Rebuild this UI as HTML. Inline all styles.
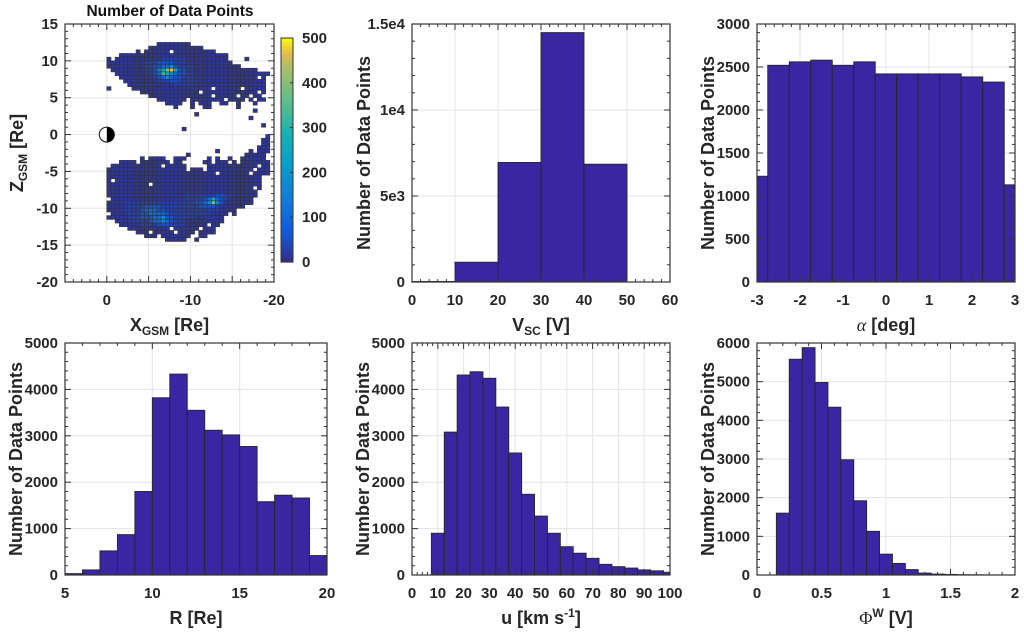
<!DOCTYPE html>
<html><head><meta charset="utf-8"><style>
body{margin:0;background:#fff;}
svg{display:block;font-family:"Liberation Sans",Arial,sans-serif;font-weight:bold;}
</style></head><body>
<svg id="fig" width="1024" height="634" viewBox="0 0 1024 634" xmlns="http://www.w3.org/2000/svg"></svg>
<script>
// ---------- DATA ----------
const vscEdges=[0,10,20,30,40,50];
const vscCounts=[30,1150,6950,14500,6850];
const alphaEdges=[-3,-2.75,-2.25,-1.75,-1.25,-0.75,-0.25,0.25,0.75,1.25,1.75,2.25,2.75,3];
const alphaCounts=[1230,2520,2560,2580,2520,2560,2420,2420,2420,2420,2385,2325,1130];
const rEdges=[5,6,7,8,9,10,11,12,13,14,15,16,17,18,19,20];
const rCounts=[30,110,520,870,1800,3820,4330,3550,3120,3020,2770,1580,1720,1660,420];
const uEdges=[0,7.5,12.5,17.5,22.5,27.5,32.5,37.5,42.5,47.5,52.5,57.5,62.5,67.5,72.5,77.5,82.5,87.5,92.5,97.5,100];
const uCounts=[0,900,3080,4310,4380,4240,3620,2630,1740,1270,900,610,470,360,230,180,150,110,90,60];
const phiEdges=[0,0.15,0.25,0.35,0.45,0.55,0.65,0.75,0.85,0.95,1.05,1.15,1.25,1.35,1.45,1.55,1.65,1.75,1.85,2];
const phiCounts=[0,1600,5580,5880,4980,4340,2980,1920,1130,540,300,140,50,25,15,8,5,3,2];
// heatmap: rows from z=12 down in 0.5 steps, columns from x=0 toward x=-20 in 0.5 steps; digit = level index
const heatLevelVals=[5,15,30,55,100,170,260,330,400,470];
const heatTopZ=12;
const heatRows=[
"............11111111....................",
"..........1111111111111.................",
".......1.111111.1111111111..............",
"...11111111111111111111111111...........",
"1.111111111112222221111111111....1......",
"111111111222333322211111111111..........",
"11111111122334453222211111111111........",
".11111111223568963322111111111111111....",
"..1111111223476543322111111111111111111.",
"...111111122345433222111111111111111.1..",
"....1111111122233222221111111111111111..",
".....111111111112222211111111111111111..",
"1.....1111111111111111111.111111.11111..",
"........11111111111111.1111111111111.1..",
"..........111111111111111.11111.11.11...",
"............1111111.11111111.1111.1.11..",
"..............1111..1.111..11..1...1....",
"................1...1..11......1........",
"...................................1....",
".....................1..................",
"..................................1.....",
"........................................",
".....................................1..",
"..................1.....................",
"........................................",
"......................................1.",
".....................................11.",
".....................................11.",
"....................................111.",
"..........................1.......1.111.",
"...................1.............11111..",
"........1.1111..111.....1.1..1..111111..",
"...1111.1111111.11.....11.111.1.1111111.",
".111111111111.11111.....111111111111.11.",
"1111111111111111111.111.11111111111.111.",
"11111111111111111111111111.1111111.1111.",
"1111111111111111111111111111111111111...",
"1.11111111111111111111111111111111111...",
"1111111111.11111111111111111111111111...",
"11111111111111111111111111111111111.1...",
"111111111111111111111111111111111111....",
"111111111111111111122222223322111111....",
".1111111111111111122222346432111111.....",
"11112222222222222222233458531111111.....",
"111112222333322222222233332111111.......",
"1111222234443322222222222221111.........",
".1111222334444322222222221111.1.........",
"1111122233344533222221111111............",
"..11112222344543222111111111............",
"...111112222333222211111.11.............",
".....1111111111.111111.111..............",
".......111.11111.1111.1111..............",
".........111.1111111..11................",
"..............11111..1.................."
];
const cbTicks=[0,100,200,300,400,500];

// ---------- HELPERS ----------
const NS="http://www.w3.org/2000/svg";
const fig=document.getElementById('fig');
function mk(tag,attrs,parent){const e=document.createElementNS(NS,tag);for(const k in attrs)e.setAttribute(k,attrs[k]);(parent||fig).appendChild(e);return e;}
const parula=[[0,53,42,135],[0.14,15,92,221],[0.29,18,125,216],[0.43,7,156,207],[0.57,21,177,180],[0.71,89,189,140],[0.86,165,190,107],[0.93,225,185,82],[1,249,251,14]];
function pcol(t){t=Math.max(0,Math.min(1,t));for(let i=1;i<parula.length;i++){if(t<=parula[i][0]){const a=parula[i-1],b=parula[i],f=(t-a[0])/(b[0]-a[0]);return `rgb(${[1,2,3].map(j=>Math.round(a[j]+(b[j]-a[j])*f)).join(',')})`;}}return 'rgb(249,251,14)';}

function axes(o){
  const g=mk('g',{});
  
  
  const sx=v=>o.x0+(v-o.xd[0])/(o.xd[1]-o.xd[0])*(o.x1-o.x0);
  const sy=v=>o.y1-(v-o.yd[0])/(o.yd[1]-o.yd[0])*(o.y1-o.y0);
  mk('rect',{x:o.x0,y:o.y0,width:o.x1-o.x0,height:o.y1-o.y0,fill:'#fff'},g);
  const grid=mk('g',{stroke:'#e3e3e3','stroke-width':1},g);
  
  
  o.xt.forEach(v=>mk('line',{x1:sx(v),x2:sx(v),y1:o.y0,y2:o.y1},grid));
  o.yt.forEach(v=>mk('line',{x1:o.x0,x2:o.x1,y1:sy(v),y2:sy(v)},grid));
  return {g,sx,sy};
}
function frame(o,A){
  const g=A.g;
  const t=mk('g',{stroke:'#333','stroke-width':1,fill:'none'},g);
  
  
  const xm=o.xm, ym=o.ym;
  for(let i=0;i<o.xt.length-1;i++){const a=o.xt[i],b=o.xt[i+1];for(let k=1;k<xm;k++){const px=A.sx(a+(b-a)*k/xm);mk('line',{x1:px,x2:px,y1:o.y1,y2:o.y1-3},t);mk('line',{x1:px,x2:px,y1:o.y0,y2:o.y0+3},t);}}
  for(let i=0;i<o.yt.length-1;i++){const a=o.yt[i],b=o.yt[i+1];for(let k=1;k<ym;k++){const py=A.sy(a+(b-a)*k/ym);mk('line',{x1:o.x0,x2:o.x0+3,y1:py,y2:py},t);mk('line',{x1:o.x1,x2:o.x1-3,y1:py,y2:py},t);}}
  o.xt.forEach(v=>{const px=A.sx(v);mk('line',{x1:px,x2:px,y1:o.y1,y2:o.y1-6},t);mk('line',{x1:px,x2:px,y1:o.y0,y2:o.y0+6},t);});
  o.yt.forEach(v=>{const py=A.sy(v);mk('line',{x1:o.x0,x2:o.x0+6,y1:py,y2:py},t);mk('line',{x1:o.x1,x2:o.x1-6,y1:py,y2:py},t);});
  const box=mk('rect',{x:o.x0,y:o.y0,width:o.x1-o.x0,height:o.y1-o.y0,fill:'none',stroke:'#333','stroke-width':1.2},g);
  
  
  o.xt.forEach((v,i)=>{const tx=mk('text',{x:A.sx(v),y:o.y1+23,'text-anchor':'middle','font-size':15,fill:'#262626'},g);tx.textContent=o.xl[i];
    
    });
  o.yt.forEach((v,i)=>{const tx=mk('text',{x:o.x0-7,y:A.sy(v)+5,'text-anchor':'end','font-size':15,fill:'#262626'},g);tx.textContent=o.yl[i];
    
    });
  const xt=mk('text',{x:(o.x0+o.x1)/2,y:o.y1+49,'text-anchor':'middle','font-size':18,fill:'#262626'},g);
  xt.innerHTML=o.xtitle;
  
  
  const yc=(o.y0+o.y1)/2, yx=o.ytx;
  const yt=mk('text',{x:yx,y:yc,'text-anchor':'middle','font-size':18,fill:'#262626',transform:`rotate(-90 ${yx} ${yc})`},g);
  yt.innerHTML=o.ytitle;
  
  
}
function hist(o,edges,counts){
  const A=axes(o);
  const bg=mk('g',{fill:'#3a25a3',stroke:'#262626','stroke-width':0.9},A.g);
  
  
  counts.forEach((c,i)=>{
    const xa=A.sx(Math.max(edges[i],o.xd[0])),xb=A.sx(Math.min(edges[i+1],o.xd[1]));
    const ya=A.sy(c),yb=A.sy(0);
    const r=mk('rect',{x:xa,y:ya,width:xb-xa,height:Math.max(0,yb-ya)},bg);
    
    
  });
  frame(o,A);
}
const range=(a,b,s)=>{const r=[];for(let v=a;v<=b+1e-9;v+=s)r.push(Math.round(v*1000)/1000);return r;};
const NDP='Number of Data Points';
const BT=343, BB=575;

// ---------- PANEL 1: HEATMAP ----------
(function(){
  const o={name:'heatmap-panel',x0:65,x1:274,y0:24,y1:282,xd:[5,-20],yd:[-20,15],xt:[5,0,-5,-10,-15,-20],yt:range(-20,15,5),xm:5,ym:5};
  const A=axes(o);
  o.xl=['','0','','-10','','-20'];o.yl=o.yt.map(String);
  const hg=mk('g',{stroke:'#333','stroke-width':0.6},A.g);
  
  
  heatRows.forEach((row,ri)=>{
    const zt=heatTopZ-ri*0.5;
    for(let c=0;c<row.length;c++){
      const ch=row[c]; if(ch==='.')continue;
      const v=heatLevelVals[+ch];
      const xa=A.sx(-c*0.5),xb=A.sx(-(c+1)*0.5),ya=A.sy(zt+0.5),yb=A.sy(zt);
      const r=mk('rect',{x:xa,y:ya,width:xb-xa,height:yb-ya,fill:pcol(v/500)},hg);
      
      
    }
  });
  const ex=A.sx(0),ey=A.sy(0);
  const eg=mk('g',{},A.g);
  
  
  mk('circle',{cx:ex,cy:ey,r:7.5,fill:'#fff',stroke:'#111','stroke-width':1},eg);
  mk('path',{d:`M${ex},${ey-7.5} A7.5,7.5 0 0 1 ${ex},${ey+7.5} Z`,fill:'#000'},eg);
  o.xtitle='X<tspan font-size="12" dy="4">GSM</tspan><tspan dy="-4"> [Re]</tspan>';
  o.ytitle='Z<tspan font-size="12" dy="4">GSM</tspan><tspan dy="-4"> [Re]</tspan>';
  o.ytx=23;
  frame(o,A);
  const title=mk('text',{x:170,y:16,'text-anchor':'middle','font-size':15.5,fill:'#111'});
  title.textContent='Number of Data Points';
  
  
  const cb=mk('g',{});
  
  
  const cx0=281,cx1=293,cy0=38,cy1=262,n=60;
  for(let i=0;i<n;i++){mk('rect',{x:cx0,y:cy1-(i+1)*(cy1-cy0)/n,width:cx1-cx0,height:(cy1-cy0)/n+0.6,fill:pcol((i+0.5)/n)},cb);}
  mk('rect',{x:cx0,y:cy0,width:cx1-cx0,height:cy1-cy0,fill:'none',stroke:'#333','stroke-width':1},cb);
  cbTicks.forEach(v=>{const py=cy1-v/500*(cy1-cy0);
    mk('line',{x1:cx1-3,x2:cx1,y1:py,y2:py,stroke:'#333'},cb);
    const t=mk('text',{x:cx1+9,y:py+5,'font-size':15,fill:'#262626'},cb);t.textContent=v;
    
    });
})();

hist({name:'vsc-histogram',x0:412,x1:670,y0:24,y1:282,xd:[0,60],yd:[0,15000],xt:range(0,60,10),yt:[0,5000,10000,15000],xl:['0','10','20','30','40','50','60'],yl:['0','5e3','1e4','1.5e4'],xm:5,ym:5,
  xtitle:'V<tspan font-size="12" dy="4">SC</tspan><tspan dy="-4"> [V]</tspan>',ytitle:NDP,ytx:370},vscEdges,vscCounts);
hist({name:'alpha-histogram',x0:757,x1:1015,y0:24,y1:282,xd:[-3,3],yd:[0,3000],xt:range(-3,3,1),yt:range(0,3000,500),xl:['-3','-2','-1','0','1','2','3'],yl:range(0,3000,500).map(String),xm:5,ym:5,
  xtitle:'<tspan font-family="Liberation Serif,serif" font-style="italic" font-weight="normal">α</tspan> [deg]',ytitle:NDP,ytx:714},alphaEdges,alphaCounts);
hist({name:'r-histogram',x0:65,x1:327,y0:BT,y1:BB,xd:[5,20],yd:[0,5000],xt:range(5,20,5),yt:range(0,5000,1000),xl:['5','10','15','20'],yl:range(0,5000,1000).map(String),xm:5,ym:5,
  xtitle:'R [Re]',ytitle:NDP,ytx:22},rEdges,rCounts);
hist({name:'u-histogram',x0:412,x1:670,y0:BT,y1:BB,xd:[0,100],yd:[0,5000],xt:range(0,100,10),yt:range(0,5000,1000),xl:range(0,100,10).map(String),yl:range(0,5000,1000).map(String),xm:5,ym:5,
  xtitle:'u [km s<tspan font-size="12" dy="-7">-1</tspan><tspan dy="7">]</tspan>',ytitle:NDP,ytx:369},uEdges,uCounts);
hist({name:'phiw-histogram',x0:757,x1:1015,y0:BT,y1:BB,xd:[0,2],yd:[0,6000],xt:range(0,2,0.5),yt:range(0,6000,1000),xl:['0','0.5','1','1.5','2'],yl:range(0,6000,1000).map(String),xm:5,ym:5,
  xtitle:'<tspan font-family="Liberation Serif,serif" font-weight="normal">Φ</tspan><tspan font-size="12" dy="-7">W</tspan><tspan dy="7"> [V]</tspan>',ytitle:NDP,ytx:714},phiEdges,phiCounts);
</script>
</body></html>
